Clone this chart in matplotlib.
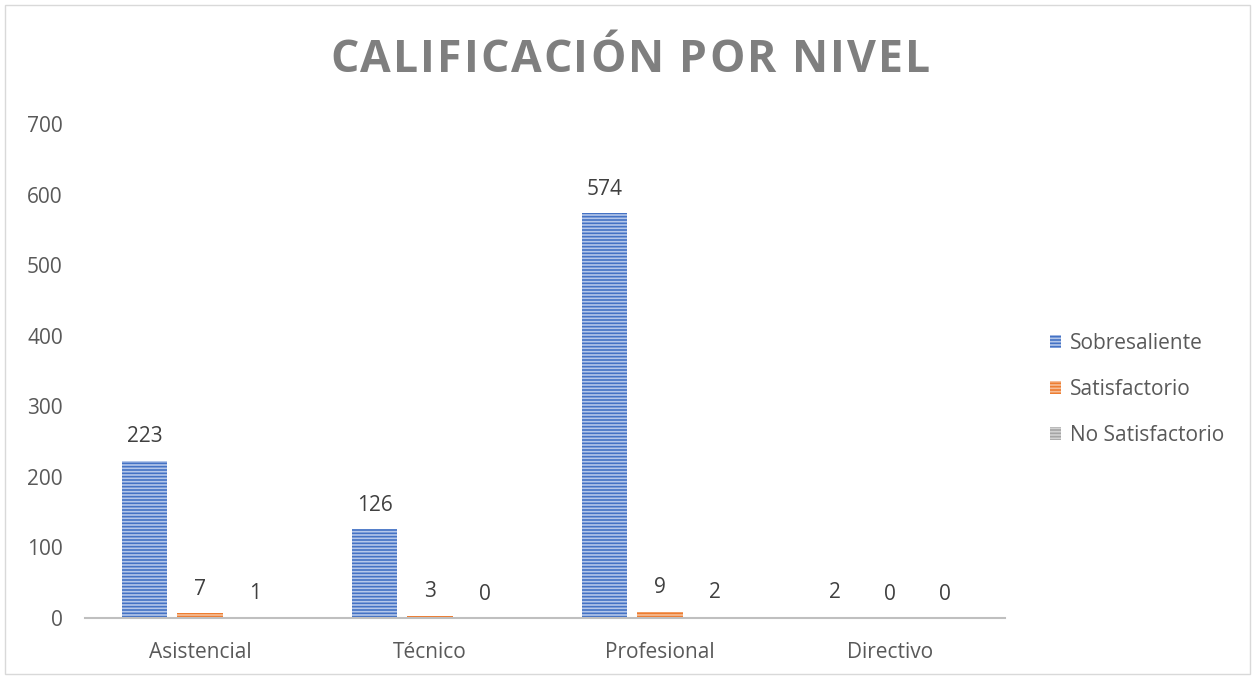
import matplotlib
matplotlib.use("Agg")
import matplotlib.pyplot as plt
import numpy as np
from matplotlib.patches import Rectangle

categories = ["Asistencial", "Técnico", "Profesional", "Directivo"]
series_names = ["Sobresaliente", "Satisfactorio", "No Satisfactorio"]
sobresaliente = [223, 126, 574, 2]
satisfactorio = [7, 3, 9, 0]
no_satisfactorio = [1, 0, 2, 0]
title = "CALIFICACIÓN POR NIVEL"
yticks = [0, 100, 200, 300, 400, 500, 600, 700]

plt.rcParams['font.family'] = ['Open Sans', 'DejaVu Sans']
plt.rcParams['hatch.linewidth'] = 1.2

fig = plt.figure(figsize=(12.55, 6.79), dpi=100)
ax = fig.add_axes([85/1255, 1-618/679, 920/1255, (618-124)/679])

colors = ["#4472C4", "#ED7D31", "#A5A5A5"]
hatch_cols = ["#B4C7EA", "#F6BE98", "#D2D2D2"]
values = [sobresaliente, satisfactorio, no_satisfactorio]
x = np.arange(len(categories))
w = 0.196
offs = [-0.241, 0, 0.241]
for i, (vals, c, hc, name) in enumerate(zip(values, colors, hatch_cols, series_names)):
    bars = ax.bar(x + offs[i], vals, width=w, color=c, edgecolor=hc, hatch='-----',
                  linewidth=0, label=name)
    for b, v in zip(bars, vals):
        ax.text(b.get_x() + b.get_width()/2, v + 19, str(v), ha='center', va='bottom',
                fontsize=15, color='#404040')

ax.set_xlim(-0.5, 3.5)
ax.set_ylim(0, 700)
ax.set_yticks(yticks)
ax.set_xticks(x)
ax.set_xticklabels(categories)
ax.tick_params(axis='both', length=0, labelsize=15, colors='#595959')
ax.tick_params(axis='y', pad=16)
ax.tick_params(axis='x', pad=17)
for s in ['top', 'right', 'left']:
    ax.spines[s].set_visible(False)
ax.spines['bottom'].set_color('#BFBFBF')
ax.spines['bottom'].set_linewidth(1.5)

# title with letter spacing
renderer = fig.canvas.get_renderer()
tsize = 32
tprops = dict(fontsize=tsize, fontweight='bold', color='#7F7F7F')
def text_width(s):
    t = fig.text(0, 0, s + "|", **tprops)
    w1 = t.get_window_extent(renderer).width
    t.remove()
    t = fig.text(0, 0, "|", **tprops)
    w2 = t.get_window_extent(renderer).width
    t.remove()
    return w1 - w2
target_left, target_right = 330, 930
full_w = text_width(title)
n = len(title)
spacing = (target_right - target_left - full_w) / (n - 1)
for i, ch in enumerate(title):
    if ch == ' ':
        continue
    px = target_left + text_width(title[:i]) + i * spacing
    fig.text(px / 1255, 1 - 60/679, ch, ha='left', va='center', **tprops)

leg = fig.legend(loc='upper left', bbox_to_anchor=(1031/1255, 1-314/679), frameon=False,
                 fontsize=15, labelcolor='#595959', handlelength=0.55, handleheight=0.55,
                 labelspacing=1.2, handletextpad=0.4)

fig.patches.append(Rectangle((5/1255, 5/679), 1245/1255, 669/679, transform=fig.transFigure,
                             fill=False, edgecolor='#D9D9D9', linewidth=1))

fig.savefig("out.png", dpi=100)
